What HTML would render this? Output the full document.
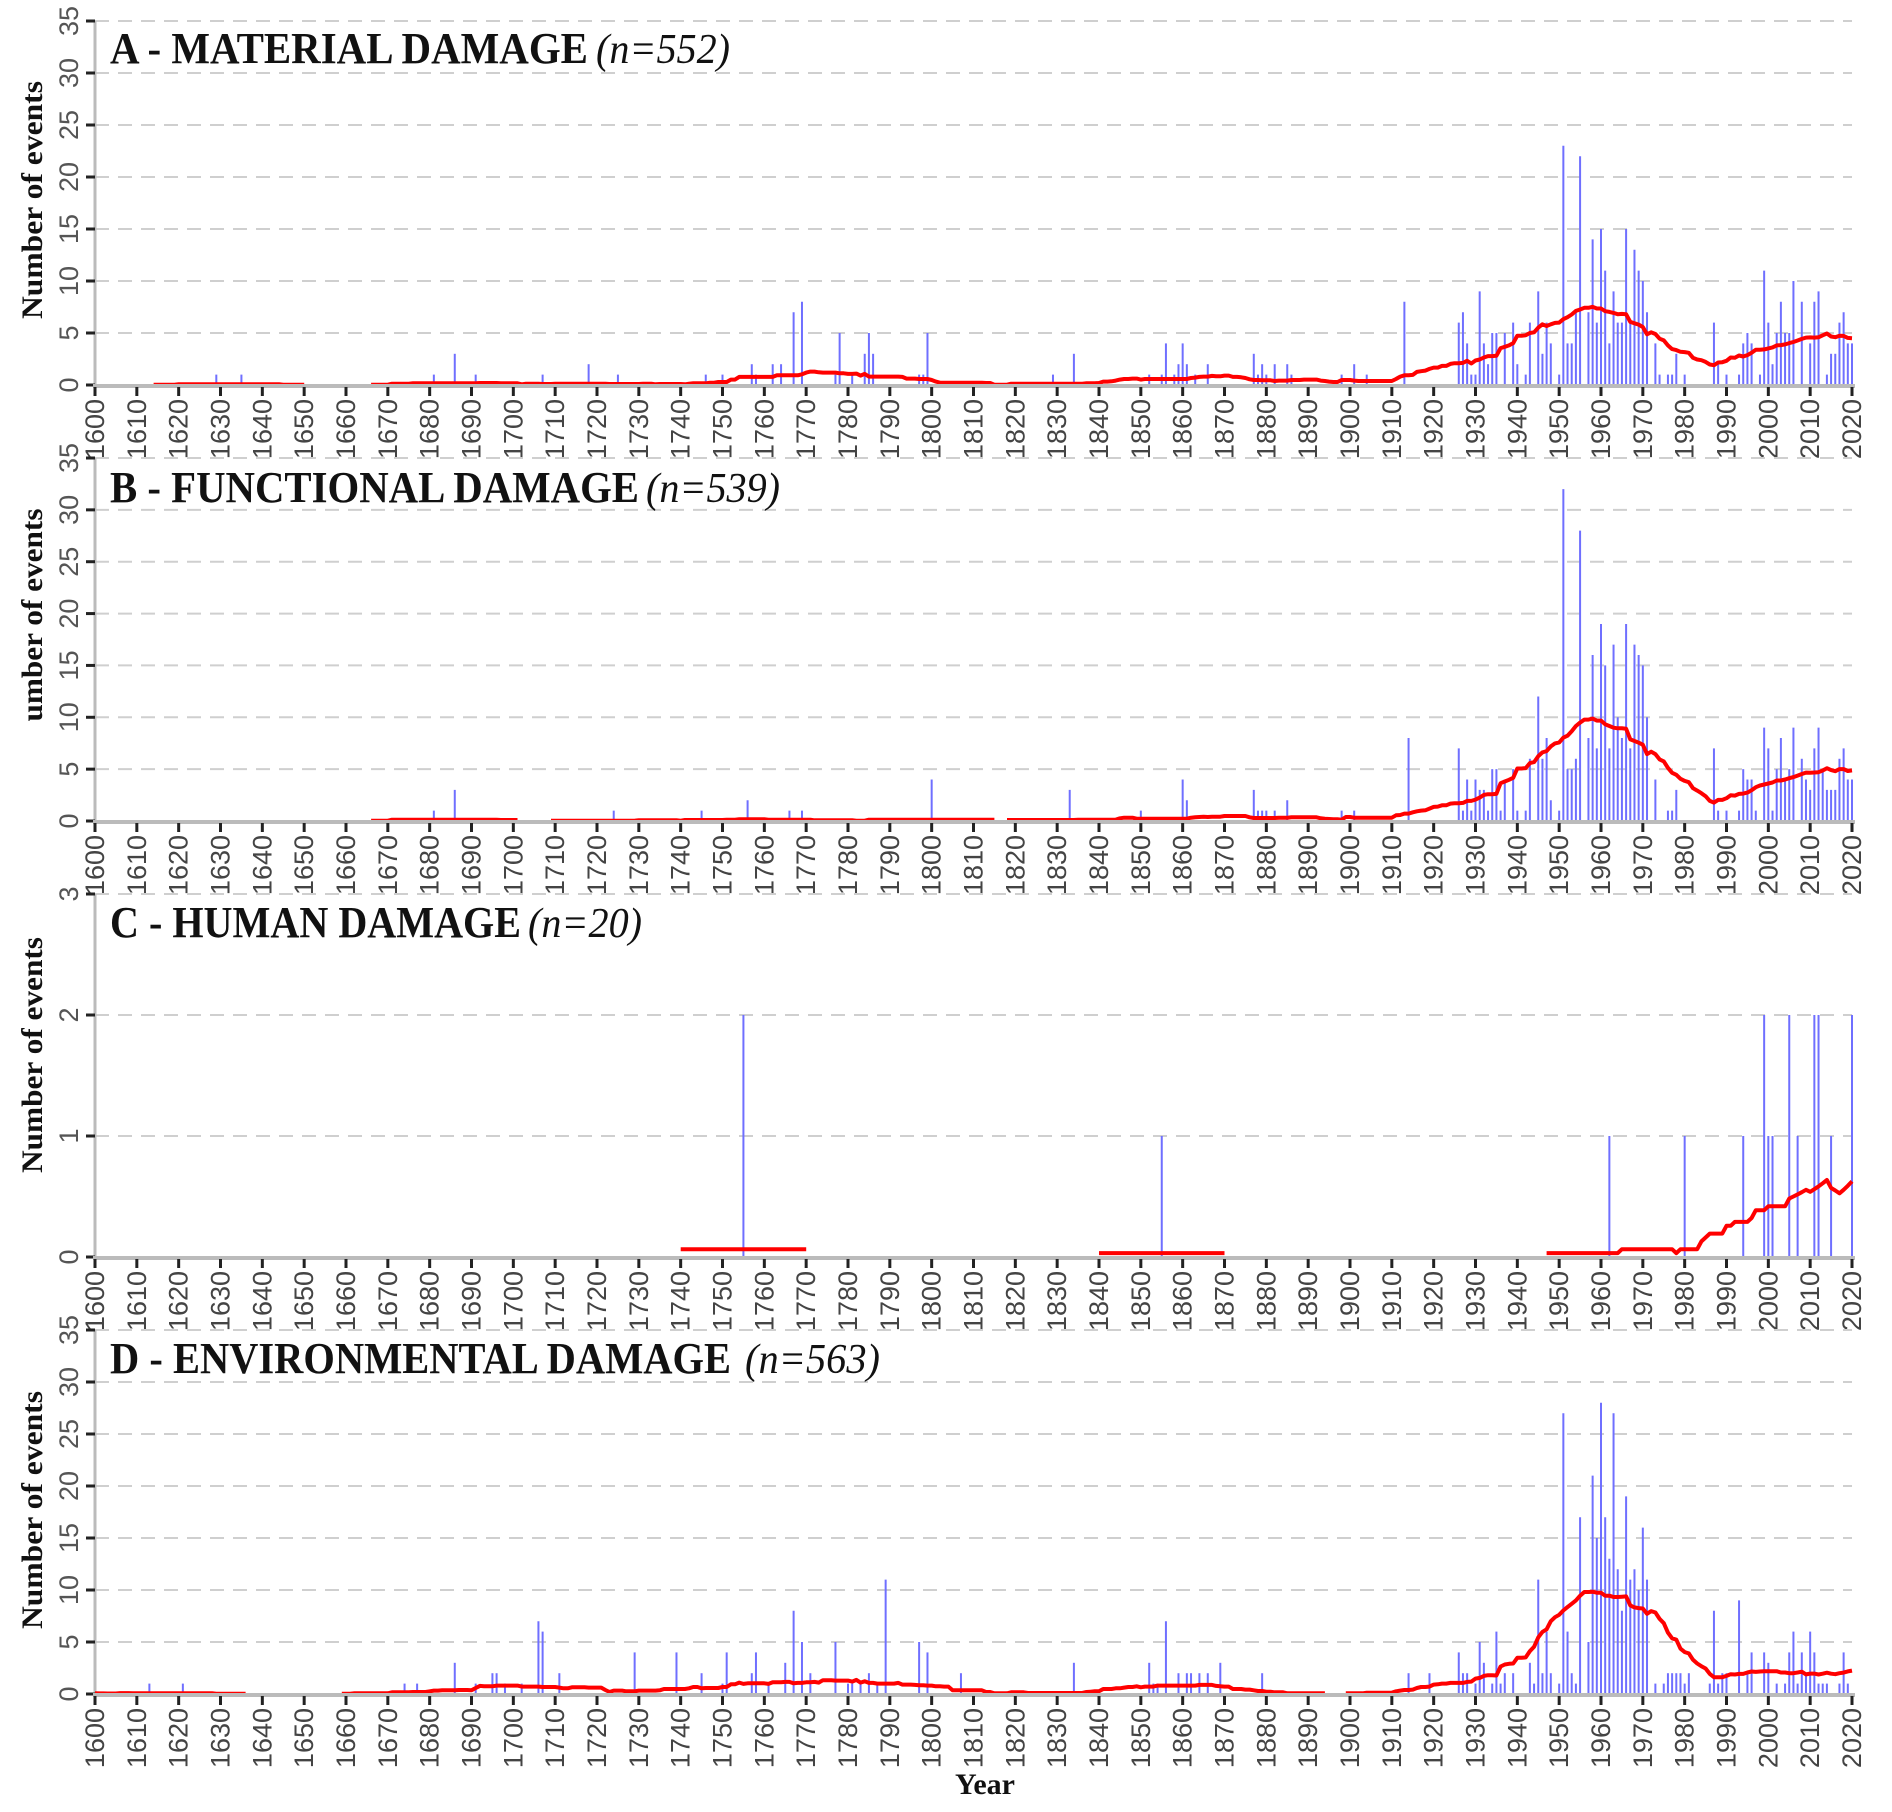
<!DOCTYPE html>
<html><head><meta charset="utf-8"><style>
html,body{margin:0;padding:0;background:#fff;}
svg{display:block;}
</style></head><body>
<svg id="chart" width="1892" height="1812" viewBox="0 0 1892 1812" xmlns="http://www.w3.org/2000/svg"></svg>
<script>
// ---- data (year, count) ----
const yearsA=[1629,1635,1681,1686,1691,1707,1718,1725,1746,1750,1757,1758,1762,1764,1767,1769,1777,1778,1781,1784,1785,1786,1797,1798,1799,1829,1834,1852,1855,1856,1858,1859,1860,1861,1863,1866,1877,1878,1879,1880,1882,1885,1886,1898,1901,1904,1913,1926,1927,1928,1929,1930,1931,1932,1933,1934,1935,1937,1939,1940,1942,1943,1945,1946,1947,1948,1950,1951,1952,1953,1954,1955,1957,1958,1959,1960,1961,1962,1963,1964,1965,1966,1967,1968,1969,1970,1971,1973,1974,1976,1977,1978,1980,1987,1988,1990,1993,1994,1995,1996,1998,1999,2000,2001,2002,2003,2004,2005,2006,2008,2010,2011,2012,2014,2015,2016,2017,2018,2019,2020];
const valuesA=[1,1,1,3,1,1,2,1,1,1,2,1,2,2,7,8,1,5,1,3,5,3,1,1,5,1,3,1,1,4,1,2,4,2,1,2,3,1,2,1,2,2,1,1,2,1,8,6,7,4,1,1,9,4,2,5,5,5,6,2,1,6,9,3,6,4,1,23,4,4,7,22,7,14,6,15,11,4,9,6,6,15,6,13,11,10,7,4,1,1,1,3,1,6,2,1,1,4,5,4,1,11,6,2,5,8,5,5,10,8,4,8,9,1,3,3,6,7,4,4];
const yearsB=[1681,1686,1724,1745,1756,1766,1769,1800,1833,1850,1860,1861,1877,1878,1879,1880,1882,1885,1898,1901,1914,1926,1927,1928,1929,1930,1931,1932,1933,1934,1935,1936,1937,1939,1940,1942,1943,1945,1946,1947,1948,1950,1951,1952,1953,1954,1955,1957,1958,1959,1960,1961,1962,1963,1964,1965,1966,1967,1968,1969,1970,1971,1973,1976,1977,1978,1987,1988,1990,1993,1994,1995,1996,1997,1999,2000,2001,2002,2003,2004,2005,2006,2008,2009,2010,2011,2012,2013,2014,2015,2016,2017,2018,2019,2020];
const valuesB=[1,3,1,1,2,1,1,4,3,1,4,2,3,1,1,1,1,2,1,1,8,7,1,4,1,4,3,3,1,5,5,1,4,5,1,1,6,12,6,8,2,1,32,5,5,6,28,8,16,7,19,15,7,17,10,8,19,7,17,16,15,10,4,1,1,3,7,1,1,1,5,4,4,1,9,7,1,5,8,4,5,9,6,4,3,7,9,5,3,3,3,6,7,4,4];
const yearsC=[1755,1855,1962,1980,1994,1999,2000,2001,2005,2007,2011,2012,2015,2020];
const valuesC=[2,1,1,1,1,2,1,1,2,1,2,2,1,2];
const yearsD=[1613,1621,1674,1677,1686,1691,1695,1696,1698,1702,1706,1707,1711,1729,1739,1745,1750,1751,1757,1758,1761,1765,1767,1769,1771,1777,1780,1781,1783,1785,1787,1789,1797,1799,1807,1834,1852,1853,1854,1856,1859,1861,1862,1864,1866,1869,1879,1914,1919,1926,1927,1928,1930,1931,1932,1934,1935,1936,1937,1939,1943,1944,1945,1946,1947,1948,1950,1951,1952,1953,1954,1955,1957,1958,1959,1960,1961,1962,1963,1964,1965,1966,1967,1968,1969,1970,1971,1973,1975,1976,1977,1978,1979,1980,1981,1986,1987,1988,1989,1990,1993,1995,1996,1999,2000,2002,2004,2005,2006,2007,2008,2009,2010,2011,2012,2013,2014,2017,2018,2019];
const valuesD=[1,1,1,1,3,1,2,2,1,1,7,6,2,4,4,2,1,4,2,4,1,3,8,5,2,5,1,1,1,2,1,11,5,4,2,3,3,1,1,7,2,2,2,2,2,3,2,2,2,4,2,2,1,5,3,1,6,1,2,2,3,1,11,2,6,2,1,27,6,2,1,17,5,21,15,28,17,13,27,12,8,19,11,12,10,16,11,1,1,2,2,2,2,1,2,1,8,1,2,2,9,2,4,4,3,1,1,4,6,1,4,2,6,4,1,1,1,1,4,1];
const xTicks=[1600,1610,1620,1630,1640,1650,1660,1670,1680,1690,1700,1710,1720,1730,1740,1750,1760,1770,1780,1790,1800,1810,1820,1830,1840,1850,1860,1870,1880,1890,1900,1910,1920,1930,1940,1950,1960,1970,1980,1990,2000,2010,2020];
const yTicksBig=[0,5,10,15,20,25,30,35];
const yTicksC=[0,1,2,3];
const titles=["A - MATERIAL DAMAGE","B - FUNCTIONAL DAMAGE","C - HUMAN DAMAGE","D - ENVIRONMENTAL DAMAGE"];
const nLabels=["(n=552)","(n=539)","(n=20)","(n=563)"];

const NS="http://www.w3.org/2000/svg";
const svg=document.getElementById('chart');
function mk(tag,attrs,parent){const e=document.createElementNS(NS,tag);for(const k in attrs)e.setAttribute(k,attrs[k]);(parent||svg).appendChild(e);return e;}
const X0=95,X1=1852,Y0=1600,Y1=2020;
function xs(yr){return X0+(yr-Y0)*(X1-X0)/(Y1-Y0);}

const panels=[
 {key:'a',years:yearsA,vals:valuesA,base:385,top:21,max:35,ticks:yTicksBig,title:titles[0],n:nLabels[0],tEnd:588,nX:596,nEnd:730,tY:63,yt:"Number of events",ytC:200,ytL:238},
 {key:'b',years:yearsB,vals:valuesB,base:821,top:458,max:35,ticks:yTicksBig,title:titles[1],n:nLabels[1],tEnd:639,nX:646,nEnd:780,tY:502,yt:"umber of events",ytC:615,ytL:213},
 {key:'c',years:yearsC,vals:valuesC,base:1257,top:894,max:3,ticks:yTicksC,title:titles[2],n:nLabels[2],tEnd:521,nX:528,nEnd:642,tY:937,yt:"Number of events",ytC:1055,ytL:236},
 {key:'d',years:yearsD,vals:valuesD,base:1694,top:1330,max:35,ticks:yTicksBig,title:titles[3],n:nLabels[3],tEnd:731,nX:745,nEnd:880,tY:1373,yt:"Number of events",ytC:1510,ytL:238}
];

panels.forEach(p=>{
  const g=mk('g',{});
  
  
  const ys=v=>p.base-(v/p.max)*(p.base-p.top);
  p.ticks.forEach(t=>{
    if(t===0)return;
    const l=mk('line',{x1:X0,x2:X1,y1:ys(t),y2:ys(t),stroke:'#cfcfcf','stroke-width':2,'stroke-dasharray':'14 9'},g);
    
    
  });
  const ya=mk('line',{x1:X0,x2:X0,y1:p.top,y2:p.base+3,stroke:'#bbbbbb','stroke-width':3},g);
  
  
  p.ticks.forEach(t=>{
    const y=ys(t);
    mk('line',{x1:86,x2:95,y1:y,y2:y,stroke:'#222','stroke-width':3},g);
    const tx=mk('text',{x:0,y:0,transform:`translate(78,${y}) rotate(-90)`,'text-anchor':'middle','font-family':'Liberation Sans, sans-serif','font-size':27,fill:'#555'},g);
    tx.textContent=t;
    
    
  });
  p.years.forEach((yr,i)=>{
    const b=mk('line',{x1:xs(yr),x2:xs(yr),y1:p.base,y2:ys(p.vals[i]),stroke:'#6f6fff','stroke-width':2},g);
    
    
  });
  const cnt={};p.years.forEach((yr,i)=>{cnt[yr]=(cnt[yr]||0)+p.vals[i];});
  const segs=[];let cur=null;
  for(let yr=Y0;yr<=Y1;yr++){
    let s=0,n=0;
    for(let k=yr-15;k<=yr+15;k++){if(k<Y0||k>Y1)continue;n++;s+=cnt[k]||0;}
    const m=s/n;
    if(m>0){if(!cur){cur=[];segs.push(cur);}cur.push([xs(yr),ys(m)]);}else cur=null;
  }
  segs.forEach(seg=>{
    if(seg.length<2)return;
    const pl=mk('polyline',{points:seg.map(q=>q[0].toFixed(1)+','+q[1].toFixed(1)).join(' '),fill:'none',stroke:'#ff0000','stroke-width':4,'stroke-linejoin':'round'},g);
    
    
  });
  const xa=mk('line',{x1:X0-2,x2:X1+3,y1:p.base+1,y2:p.base+1,stroke:'#bbbbbb','stroke-width':4},g);
  
  
  xTicks.forEach(t=>{
    const x=xs(t);
    mk('line',{x1:x,x2:x,y1:p.base+2,y2:p.base+11,stroke:'#222','stroke-width':3},g);
    const tx=mk('text',{x:0,y:0,transform:`translate(${x+9},${p.base+14}) rotate(-90)`,'text-anchor':'end','font-family':'Liberation Sans, sans-serif','font-size':27,fill:'#444'},g);
    tx.textContent=t;
    
    
  });
  const tt=mk('text',{x:110,y:p.tY,'font-family':'Liberation Serif, serif','font-weight':'bold','font-size':44,fill:'#111',textLength:p.tEnd-110,lengthAdjust:'spacingAndGlyphs'},g);
  tt.textContent=p.title;
  
  
  const nt=mk('text',{x:p.nX,y:p.tY,'font-family':'Liberation Serif, serif','font-style':'italic','font-size':42,fill:'#111',textLength:p.nEnd-p.nX,lengthAdjust:'spacingAndGlyphs'},g);
  nt.textContent=p.n;
  
  
  const yt=mk('text',{x:0,y:0,transform:`translate(42,${p.ytC}) rotate(-90)`,'text-anchor':'middle','font-family':'Liberation Serif, serif','font-weight':'bold','font-size':30,fill:'#111',textLength:p.ytL,lengthAdjust:'spacingAndGlyphs'},g);
  yt.textContent=p.yt;
  
  
});
const xt=mk('text',{x:985,y:1794,'text-anchor':'middle','font-family':'Liberation Serif, serif','font-weight':'bold','font-size':30,fill:'#111'});
xt.textContent='Year';


</script>
</body></html>
